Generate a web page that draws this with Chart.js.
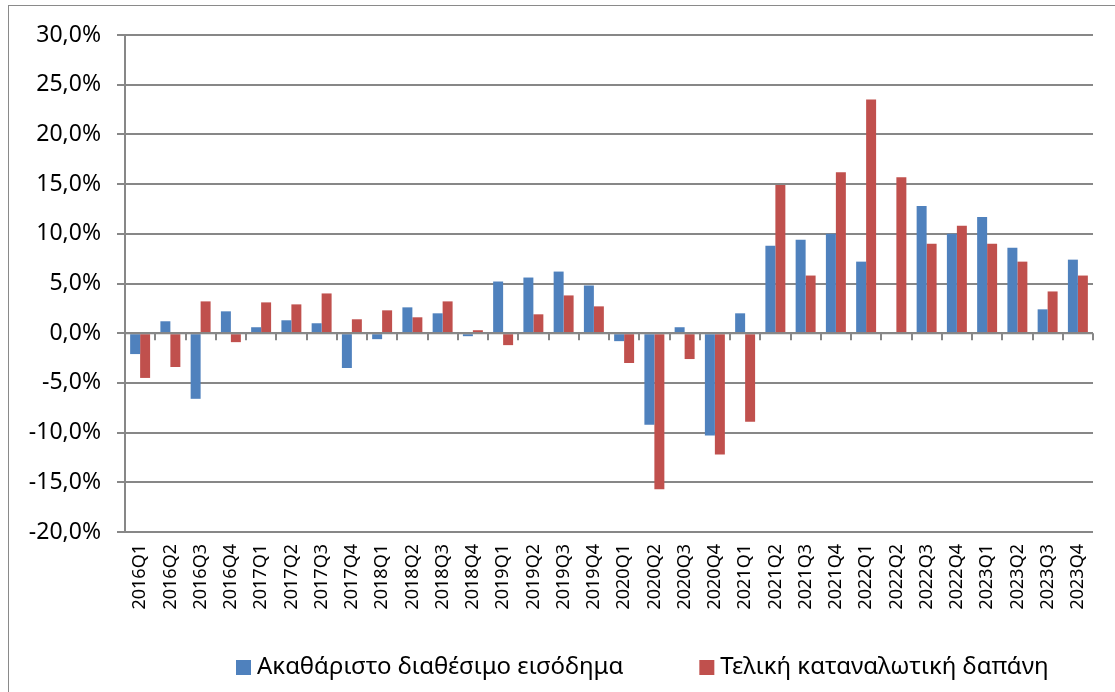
<!DOCTYPE html>
<html lang="el">
<head>
<meta charset="UTF-8">
<title>Ακαθάριστο διαθέσιμο εισόδημα και τελική καταναλωτική δαπάνη</title>
<script src="https://cdn.jsdelivr.net/npm/chart.js"></script>
<style>
  html, body { margin: 0; padding: 0; background: #fff; }
  #wrap { position: relative; width: 1115px; height: 692px; overflow: hidden; }
  #frame { position: absolute; left: 8px; top: 5px; width: 1200px; height: 800px;
           border: 1px solid #8a8a8a; pointer-events: none; }
  canvas { position: absolute; left: 0; top: 0; }
</style>
</head>
<body>
<div id="wrap">
  <canvas id="chart" width="1115" height="692"></canvas>
  <div id="frame"></div>
</div>
<script>
// quarters
const quarters = [
  '2016Q1','2016Q2','2016Q3','2016Q4','2017Q1','2017Q2','2017Q3','2017Q4',
  '2018Q1','2018Q2','2018Q3','2018Q4','2019Q1','2019Q2','2019Q3','2019Q4',
  '2020Q1','2020Q2','2020Q3','2020Q4','2021Q1','2021Q2','2021Q3','2021Q4',
  '2022Q1','2022Q2','2022Q3','2022Q4','2023Q1','2023Q2','2023Q3','2023Q4'
];

// % change
const grossIncome = [
  -2.1, 1.2, -6.6, 2.2, 0.6, 1.3, 1.0, -3.5,
  -0.6, 2.6, 2.0, -0.3, 5.2, 5.6, 6.2, 4.8,
  -0.8, -9.2, 0.6, -10.3, 2.0, 8.8, 9.4, 10.0,
  7.2, -0.1, 12.8, 10.0, 11.7, 8.6, 2.4, 7.4
];
const consumption = [
  -4.5, -3.4, 3.2, -0.9, 3.1, 2.9, 4.0, 1.4,
  2.3, 1.6, 3.2, 0.3, -1.2, 1.9, 3.8, 2.7,
  -3.0, -15.7, -2.6, -12.2, -8.9, 14.9, 5.8, 16.2,
  23.5, 15.7, 9.0, 10.8, 9.0, 7.2, 4.2, 5.8
];

const yTicks = [-20, -15, -10, -5, 0, 5, 10, 15, 20, 25, 30];

const seriesNames = ['Ακαθάριστο διαθέσιμο εισόδημα', 'Τελική καταναλωτική δαπάνη'];
const blue = '#4f81bd';
const red = '#c0504d';
const gridColor = '#878787';
const font = 'Noto Sans';

// small tick marks on the zero line between quarters
const zeroTicks = {
  id: 'zeroTicks',
  afterDatasetsDraw(chart) {
    const x = chart.scales.x, y = chart.scales.y;
    const y0 = y.getPixelForValue(0);
    const ctx = chart.ctx;
    ctx.save();
    ctx.strokeStyle = gridColor;
    ctx.lineWidth = 2;
    const half = (x.getPixelForValue(1) - x.getPixelForValue(0)) / 2;
    ctx.beginPath();
    ctx.moveTo(chart.chartArea.left, y0);
    ctx.lineTo(chart.chartArea.right, y0);
    for (let i = 0; i <= quarters.length; i++) {
      const px = Math.round(x.getPixelForValue(i) - half);
      ctx.moveTo(px, y0);
      ctx.lineTo(px, y0 + 7);
    }
    ctx.stroke();
    ctx.restore();
  }
};

// legend at the bottom, drawn on the canvas
const bottomLegend = {
  id: 'bottomLegend',
  afterDraw(chart) {
    const ctx = chart.ctx;
    ctx.save();
    ctx.font = '24px "' + font + '"';
    ctx.textBaseline = 'middle';
    let x = 236;
    const yc = 667;
    chart.data.datasets.forEach(ds => {
      ctx.fillStyle = ds.backgroundColor;
      ctx.fillRect(x, yc - 7, 15, 15);
      ctx.fillStyle = '#000';
      ctx.fillText(ds.label, x + 21, yc);
      x += 21 + ctx.measureText(ds.label).width + 76;
    });
    ctx.restore();
  }
};

new Chart(document.getElementById('chart'), {
  type: 'bar',
  data: {
    labels: quarters,
    datasets: [
      { label: seriesNames[0], data: grossIncome, backgroundColor: blue },
      { label: seriesNames[1], data: consumption, backgroundColor: red }
    ]
  },
  options: {
    responsive: false,
    animation: false,
    events: [],
    layout: { padding: { top: 35, right: 22, bottom: 60, left: 0 } },
    datasets: { bar: { categoryPercentage: 0.66, barPercentage: 1.0 } },
    plugins: { legend: { display: false }, tooltip: { enabled: false } },
    scales: {
      x: {
        grid: { display: false, drawTicks: false },
        border: { display: false },
        ticks: {
          autoSkip: false, minRotation: 90, maxRotation: 90, padding: 12,
          color: '#000', font: { family: font, size: 18 }
        },
        afterFit(s) { s.height = 100; }
      },
      y: {
        min: -20, max: 30,
        afterBuildTicks(s) { s.ticks = yTicks.map(v => ({ value: v })); },
        grid: { color: gridColor, lineWidth: 2, tickLength: 8 },
        border: { color: gridColor, width: 2 },
        ticks: {
          padding: 16, color: '#000', font: { family: font, size: 23 },
          callback: v => v.toFixed(1).replace('.', ',') + '%'
        },
        afterFit(s) { s.width = 125; }
      }
    }
  },
  plugins: [zeroTicks, bottomLegend]
});
</script>
</body>
</html>
